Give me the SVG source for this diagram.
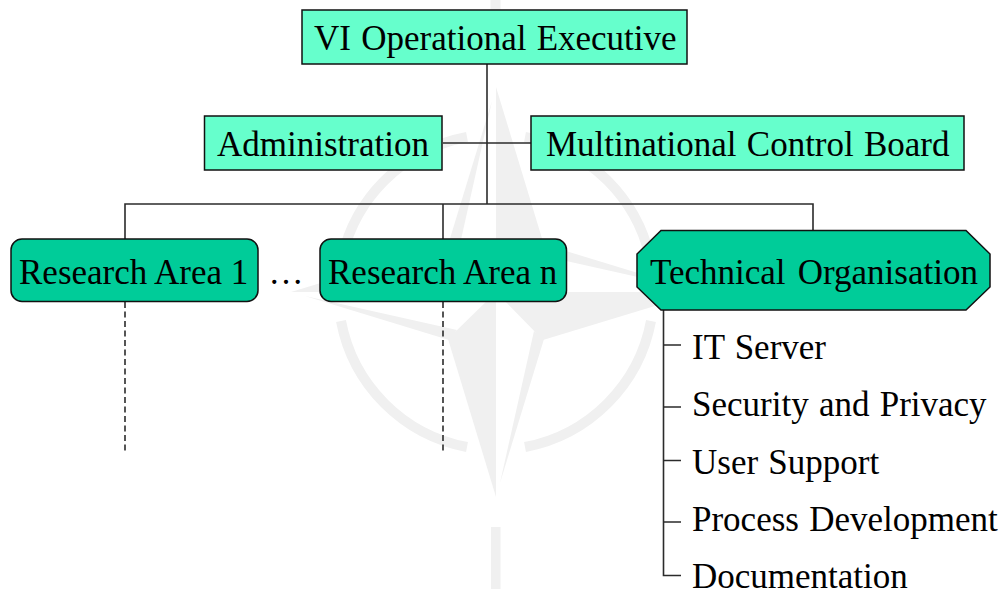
<svg xmlns="http://www.w3.org/2000/svg" width="1005" height="591" viewBox="0 0 1005 591">
<style>
text{font-family:"Liberation Serif","Times New Roman",serif;font-size:35px;word-spacing:1.500px;fill:#000}
.box{fill:#66ffcc;stroke:#111;stroke-width:1.5}
.area{fill:#00cc99;stroke:#111;stroke-width:1.5}
.wm{fill:#f0f0f0}
.ring{fill:none;stroke:#f0f0f0;stroke-width:10}
#connectors path{fill:none;stroke:#2b2b2b;stroke-width:1.6}
#connectors .dash{stroke-dasharray:6 3.5}
#research-1 text,#research-n text{word-spacing:0}
#technical text{word-spacing:3.500px}
</style>
<rect width="1005" height="591" fill="#fff"/>
<g id="watermark" transform="translate(496 292)">
<g id="wm-arm"><path class="wm" d="M0 0L-48 47L0 205Z"/><path class="wm" d="M48 47L38 39L4 191Z"/></g>
<g transform="rotate(90)"><path class="wm" d="M0 0L-48 47L0 205Z"/><path class="wm" d="M48 47L38 39L4 191Z"/></g>
<g transform="rotate(180)"><path class="wm" d="M0 0L-48 47L0 205Z"/><path class="wm" d="M48 47L38 39L4 191Z"/></g>
<g transform="rotate(270)"><path class="wm" d="M0 0L-48 47L0 205Z"/><path class="wm" d="M48 47L38 39L4 191Z"/></g>
<path class="ring" d="M155 29A158 158 0 0 1 29 155M-29 155A158 158 0 0 1 -155 29M-155 -29A158 158 0 0 1 -29 -155M29 -155A158 158 0 0 1 155 -29"/>
<rect class="wm" x="-5" y="235" width="9.5" height="62"/>
<rect class="wm" x="-5.500" y="-292" width="10" height="57"/>
</g>
<g id="connectors">
<path d="M487 64V204"/>
<path d="M443 143H531"/>
<path d="M125 239V204H813V231"/>
<path d="M443 204V239"/>
<path class="dash" d="M125 302V452"/>
<path class="dash" d="M443 302V452"/>
<path d="M663.500 310V575.500H681"/>
<path d="M663.500 345H681M663.500 407H681M663.500 460.500H681M663.500 522H681"/>
</g>
<g id="executive"><rect class="box" x="302" y="10" width="385" height="54"/><text x="314" y="50">VI Operational Executive</text></g>
<g id="administration"><rect class="box" x="204.500" y="116" width="237.500" height="54"/><text x="217" y="156">Administration</text></g>
<g id="control-board"><rect class="box" x="531" y="116" width="433" height="54"/><text x="546" y="156">Multinational Control Board</text></g>
<g id="research-1"><rect class="area" x="11" y="239" width="247" height="62.500" rx="11"/><text x="19" y="284">Research Area 1</text></g>
<g id="ellipsis"><text x="268.500" y="284">…</text></g>
<g id="research-n"><rect class="area" x="320" y="239" width="246.500" height="62.500" rx="11"/><text x="328" y="284">Research Area n</text></g>
<g id="technical"><path class="area" d="M661 230.500H966L990 254V287L966 310H661L637 287V254Z"/><text x="650" y="284">Technical Organisation</text></g>
<g id="it-server"><text x="692" y="359">IT Server</text></g>
<g id="security"><text x="692" y="416">Security and Privacy</text></g>
<g id="user-support"><text x="692" y="474">User Support</text></g>
<g id="process"><text x="692" y="531">Process Development</text></g>
<g id="documentation"><text x="692" y="588">Documentation</text></g>
</svg>
